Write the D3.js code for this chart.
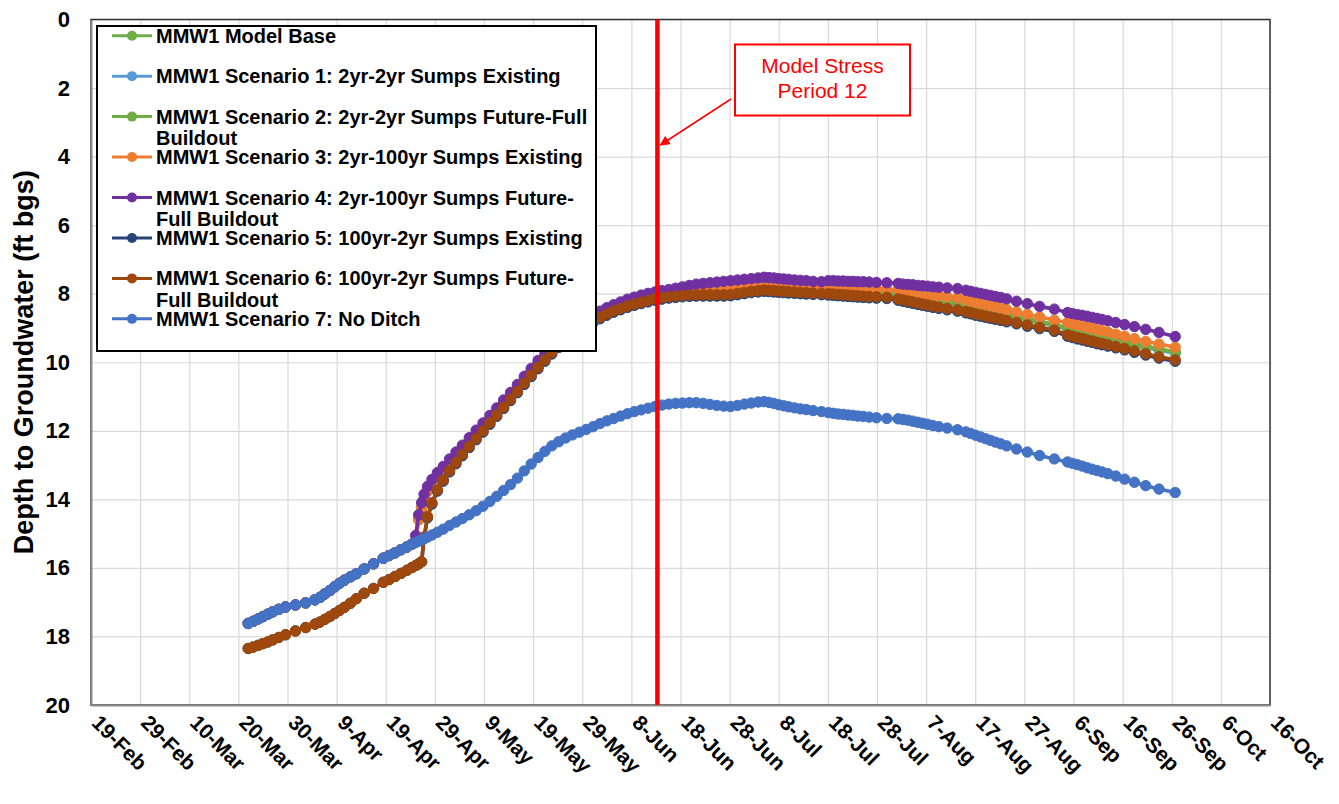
<!DOCTYPE html>
<html><head><meta charset="utf-8">
<script src="https://cdn.jsdelivr.net/npm/d3@7"></script>
<style>
body{margin:0;background:#fff}
svg{display:block}
text{font-family:"Liberation Sans",Arial,Helvetica,sans-serif}
</style>
</head><body>
<svg id="chart" width="1339" height="804"></svg>
<script>
// ---------------- DATA ----------------
const year = 2020;
const startLabel = "19-Feb";
const tickLabels = ["19-Feb","29-Feb","10-Mar","20-Mar","30-Mar","9-Apr","19-Apr","29-Apr","9-May","19-May","29-May","8-Jun","18-Jun","28-Jun","8-Jul","18-Jul","28-Jul","7-Aug","17-Aug","27-Aug","6-Sep","16-Sep","26-Sep","6-Oct","16-Oct"];
const yTicks = [0,2,4,6,8,10,12,14,16,18,20];
const yTitle = "Depth to Groundwater (ft bgs)";
const stressPeriodDay = 115.3;           // days after 19-Feb
const stressLabel = ["Model Stress","Period 12"];

// model time steps, days after 19-Feb
const days = [32,33,34,35,36,37,38.2,39.6,41.6,43.7,
45.6,46.6,47.6,48.6,49.6,50.6,51.6,52.8,54,55.6,57.5,
59.5,60.7,61.9,63.1,64.3,65.3,66.1,66.7,67.3,67.8,68.5,69.4,70.5,71.7,73,74.3,75.6,77,78.4,79.8,81.2,82.6,84,85.4,86.8,88.2,89.6,91,92.4,93.8,95.2,96.6,98,99.4,100.8,102.2,103.6,105,106.4,107.8,109.2,110.6,112,113.4,114.8,116.2,117.6,119,120.4,121.8,123.2,124.6,126,127.4,128.8,130.2,131.6,133,134.4,135.8,
137,138,139,140,141,142,143.2,144.4,145.6,147,148.7,
150.1,151.1,152.1,153.1,154.1,155.1,156.1,157.2,158.4,159.9,162,
164.3,165.3,166.3,167.3,168.3,169.3,170.3,171.4,172.6,174.3,176.4,
178.1,179.1,180.1,181.1,182.1,183.1,184.1,185.2,186.4,188.4,190.6,193.1,196.1,
198.8,199.8,200.8,201.8,202.8,203.8,204.8,205.8,207,208.6,210.4,212.4,214.7,217.4,220.7];

// shared early path of Base, Scenarios 1-4 and 7 (first 27 steps)
const upperEarly = [17.62,17.56,17.49,17.42,17.35,17.28,17.21,17.14,17.08,17.02,
16.93,16.86,16.76,16.66,16.55,16.45,16.36,16.26,16.17,16.03,15.88,
15.72,15.64,15.56,15.47,15.39,15.31];
// shared early path of Scenarios 5 and 6 (first 30 steps)
const lowerEarly = [18.35,18.31,18.26,18.21,18.16,18.1,18.03,17.95,17.84,17.74,
17.64,17.58,17.5,17.42,17.33,17.24,17.15,17.03,16.9,16.74,16.6,
16.42,16.34,16.25,16.16,16.07,15.99,15.93,15.88,15.82];

// rise after 26-Apr shared by Base and Scenarios 1-3 (steps 28-81)
const midRise = [15.19,14.59,14.24,13.99,13.76,13.56,13.36,13.18,12.96,12.74,
12.53,12.31,12.09,11.87,11.65,11.43,11.2,10.98,10.75,10.51,
10.28,10.05,9.84,9.64,9.45,9.28,9.12,8.97,8.84,8.72,
8.61,8.51,8.42,8.34,8.26,8.2,8.14,8.09,8.05,8.01,
7.98,7.95,7.92,7.89,7.86,7.84,7.82,7.8,7.78,7.76,
7.74,7.72,7.7,7.68];
const s4Rise = [15.05,14.45,14.1,13.85,13.62,13.42,13.22,13.04,12.82,12.62,
12.42,12.2,11.98,11.77,11.55,11.33,11.1,10.88,10.65,10.41,
10.18,9.95,9.74,9.54,9.35,9.18,9.02,8.87,8.74,8.62,
8.51,8.41,8.32,8.24,8.16,8.1,8.04,7.99,7.95,7.91,
7.88,7.84,7.8,7.76,7.72,7.7,7.68,7.66,7.64,7.62,
7.6,7.58,7.56,7.54];

// July - September (steps 82-142)
const baseLate = [7.81,7.82,7.82,7.83,7.84,7.84,7.85,7.86,7.86,7.87,7.88,
7.87,7.88,7.89,7.89,7.9,7.91,7.91,7.92,7.93,7.94,7.95,
7.99,8.02,8.04,8.07,8.09,8.11,8.14,8.16,8.19,8.22,8.26,
8.31,8.34,8.38,8.41,8.45,8.48,8.52,8.55,8.59,8.66,8.73,8.81,8.9,
8.99,9.02,9.06,9.09,9.13,9.16,9.2,9.23,9.27,9.33,9.39,9.46,9.53,9.61,9.7];
const s1Late = [7.85,7.86,7.86,7.87,7.88,7.88,7.89,7.9,7.9,7.91,7.92,
7.91,7.92,7.93,7.93,7.94,7.95,7.95,7.96,7.97,7.98,7.99,
8.03,8.06,8.08,8.11,8.13,8.15,8.18,8.2,8.23,8.26,8.3,
8.35,8.38,8.42,8.45,8.49,8.52,8.56,8.59,8.63,8.7,8.77,8.85,8.94,
9.03,9.06,9.1,9.13,9.17,9.2,9.24,9.27,9.31,9.37,9.43,9.5,9.57,9.65,9.74];
const s2Late = [7.82,7.83,7.83,7.84,7.85,7.85,7.86,7.87,7.87,7.88,7.89,
7.88,7.89,7.9,7.9,7.91,7.92,7.92,7.93,7.94,7.95,7.96,
8.0,8.03,8.05,8.08,8.1,8.12,8.15,8.17,8.2,8.23,8.27,
8.32,8.35,8.39,8.42,8.46,8.49,8.53,8.56,8.6,8.67,8.74,8.82,8.91,
9.0,9.03,9.07,9.1,9.14,9.17,9.21,9.24,9.28,9.34,9.4,9.47,9.54,9.62,9.71];
const s3Late = [7.75,7.76,7.76,7.77,7.78,7.78,7.79,7.8,7.8,7.81,7.82,
7.8,7.8,7.81,7.81,7.82,7.82,7.83,7.83,7.84,7.85,7.86,
7.9,7.92,7.94,7.96,7.98,8.0,8.02,8.04,8.06,8.09,8.12,
8.18,8.21,8.25,8.28,8.32,8.35,8.38,8.42,8.46,8.53,8.6,8.68,8.77,
8.84,8.87,8.91,8.94,8.98,9.01,9.05,9.08,9.12,9.18,9.24,9.31,9.39,9.47,9.56];
const s4Late = [7.52,7.53,7.54,7.56,7.57,7.58,7.6,7.61,7.62,7.64,7.65,
7.62,7.62,7.63,7.63,7.64,7.64,7.65,7.65,7.66,7.67,7.68,
7.7,7.72,7.73,7.74,7.76,7.77,7.78,7.8,7.81,7.83,7.85,
7.9,7.93,7.96,7.99,8.02,8.05,8.08,8.11,8.15,8.22,8.29,8.37,8.45,
8.55,8.58,8.61,8.63,8.66,8.69,8.72,8.75,8.79,8.84,8.9,8.96,9.04,9.13,9.25];
// Scenarios 5 and 6 from 27-Apr (steps 31-142)
const s5Rest = [15.14,14.54,14.14,13.76,13.47,13.2,12.96,12.73,12.49,12.26,
12.04,11.81,11.58,11.35,11.12,10.89,10.65,10.42,10.19,9.97,
9.76,9.57,9.4,9.24,9.09,8.96,8.84,8.73,8.63,8.54,
8.47,8.4,8.34,8.29,8.24,8.19,8.16,8.13,8.11,8.09,
8.08,8.07,8.07,8.07,8.07,8.07,8.06,8.03,8.0,7.97,7.95,
7.93,7.94,7.95,7.96,7.97,7.98,7.99,8.0,8.01,8.02,8.03,
8.04,8.05,8.06,8.07,8.08,8.09,8.1,8.11,8.12,8.13,8.14,
8.19,8.22,8.25,8.28,8.31,8.34,8.37,8.4,8.43,8.47,8.51,
8.56,8.59,8.63,8.66,8.69,8.72,8.75,8.78,8.82,8.88,8.95,9.02,9.1,
9.24,9.28,9.32,9.35,9.39,9.42,9.46,9.49,9.53,9.58,9.64,9.71,9.79,9.88,9.97];
const s6Rest = [15.1,14.5,14.1,13.72,13.43,13.16,12.92,12.69,12.45,12.22,
12.0,11.77,11.54,11.31,11.08,10.85,10.61,10.38,10.15,9.93,
9.72,9.53,9.36,9.2,9.05,8.92,8.8,8.69,8.59,8.5,
8.43,8.36,8.3,8.25,8.2,8.15,8.12,8.09,8.07,8.05,
8.04,8.03,8.03,8.03,8.03,8.03,8.02,7.99,7.96,7.93,7.91,
7.89,7.9,7.91,7.92,7.93,7.94,7.95,7.96,7.97,7.98,7.99,
8.0,8.01,8.02,8.03,8.04,8.05,8.06,8.07,8.08,8.09,8.1,
8.15,8.18,8.21,8.24,8.27,8.3,8.33,8.36,8.39,8.43,8.47,
8.52,8.55,8.59,8.62,8.65,8.68,8.71,8.74,8.78,8.84,8.91,8.98,9.06,
9.2,9.24,9.28,9.31,9.35,9.38,9.42,9.45,9.49,9.54,9.6,9.67,9.75,9.84,9.93];
// Scenario 7 from 26-Apr (steps 28-142)
const s7Rest = [15.26,15.22,15.18,15.15,15.10,15.04,14.96,14.87,14.76,14.66,
14.56,14.45,14.33,14.20,14.06,13.91,13.74,13.57,13.38,13.17,
12.97,12.78,12.60,12.44,12.32,12.21,12.12,12.04,11.96,11.88,
11.79,11.71,11.64,11.57,11.50,11.44,11.39,11.34,11.29,11.25,
11.22,11.20,11.19,11.18,11.18,11.20,11.23,11.26,11.28,11.29,
11.26,11.22,11.19,11.16,
11.15,11.17,11.2,11.24,11.27,11.3,11.33,11.36,11.38,11.41,11.44,
11.47,11.49,11.51,11.52,11.54,11.55,11.57,11.58,11.6,11.62,11.64,
11.65,11.67,11.69,11.72,11.75,11.78,11.81,11.85,11.88,11.92,11.97,
12.03,12.08,12.13,12.18,12.23,12.28,12.33,12.38,12.44,12.53,12.62,12.72,12.82,
12.91,12.95,12.99,13.03,13.08,13.12,13.16,13.2,13.25,13.32,13.41,13.5,13.6,13.7,13.8];

const seriesNames = ["MMW1 Model Base",
 "MMW1 Scenario 1: 2yr-2yr Sumps Existing",
 "MMW1 Scenario 2: 2yr-2yr Sumps Future-Full Buildout",
 "MMW1 Scenario 3: 2yr-100yr Sumps Existing",
 "MMW1 Scenario 4: 2yr-100yr Sumps Future-Full Buildout",
 "MMW1 Scenario 5: 100yr-2yr Sumps Existing",
 "MMW1 Scenario 6: 100yr-2yr Sumps Future-Full Buildout",
 "MMW1 Scenario 7: No Ditch"];
const seriesValues = [
 upperEarly.concat(midRise, baseLate),
 upperEarly.concat(midRise, s1Late),
 upperEarly.concat(midRise, s2Late),
 upperEarly.concat(midRise, s3Late),
 upperEarly.concat(s4Rise, s4Late),
 lowerEarly.concat(s5Rest),
 lowerEarly.concat(s6Rest),
 upperEarly.concat(s7Rest)];

// ---------------- STYLE ----------------
const seriesColors = ["#70AD47","#5B9BD5","#70AD47","#ED7D31","#7030A0","#264478","#9E480E","#4472C4"];
const FONT = '"Liberation Sans",Arial,Helvetica,sans-serif';

// ---------------- DRAW ----------------
const svg = d3.select("#chart");
const P = {left:91, right:1270, top:19.5, bottom:705};
const parse = d3.utcParse("%d-%b-%Y");
const tickDates = tickLabels.map(l => parse(l + "-" + year));
const t0 = parse(startLabel + "-" + year);
const toDate = d => new Date(t0.getTime() + d * 864e5);

const x = d3.scaleUtc().domain([tickDates[0], tickDates[tickDates.length-1]]).range([P.left, P.right]);
const y = d3.scaleLinear().domain([yTicks[0], yTicks[yTicks.length-1]]).range([P.top, P.bottom]);

// grid
svg.append("g").attr("transform", `translate(0,${P.bottom})`)
  .call(d3.axisBottom(x).tickValues(tickDates).tickSize(-(P.bottom-P.top)).tickFormat(""))
  .call(g => { g.select(".domain").remove(); g.selectAll("line").attr("stroke","#d9d9d9").attr("stroke-width",1.2); });
svg.append("g").attr("transform", `translate(${P.left},0)`)
  .call(d3.axisLeft(y).tickValues(yTicks).tickSize(-(P.right-P.left)).tickFormat(""))
  .call(g => { g.select(".domain").remove(); g.selectAll("line").attr("stroke","#d9d9d9").attr("stroke-width",1.2); });

// series
const line = d3.line().x((v,i) => x(toDate(days[i]))).y(v => y(v));
seriesValues.forEach((vals, s) => {
  const g = svg.append("g");
  g.append("path").attr("d", line(vals)).attr("fill","none")
    .attr("stroke", seriesColors[s]).attr("stroke-width",3.6).attr("stroke-linejoin","round");
  g.selectAll("circle").data(vals).join("circle")
    .attr("cx", (v,i) => x(toDate(days[i]))).attr("cy", v => y(v)).attr("r",5.2)
    .attr("fill", seriesColors[s]).attr("stroke", seriesColors[s]).attr("stroke-width",1);
});

// plot border and axes
svg.append("rect").attr("x",P.left).attr("y",P.top).attr("width",P.right-P.left).attr("height",P.bottom-P.top)
  .attr("fill","none").attr("stroke","#333").attr("stroke-width",1.5);
svg.append("g").attr("transform", `translate(0,${P.bottom})`)
  .call(d3.axisBottom(x).tickValues(tickDates).tickSize(0).tickFormat((d,i)=>tickLabels[i]))
  .call(g => {
    g.select(".domain").attr("stroke","#8c8c8c").attr("stroke-width",2);
    g.selectAll("text").attr("font-family",FONT).attr("font-size",21).attr("font-weight","bold").attr("fill","#000")
      .attr("text-anchor","start").attr("dy",null).attr("y",null)
      .attr("transform","translate(-1,19) rotate(45)");
  });
svg.append("g").attr("transform", `translate(${P.left},0)`)
  .call(d3.axisLeft(y).tickValues(yTicks).tickSize(0).tickPadding(21))
  .call(g => {
    g.select(".domain").attr("stroke","#8c8c8c").attr("stroke-width",2);
    g.selectAll("text").attr("font-family",FONT).attr("font-size",22).attr("font-weight","bold").attr("fill","#000");
  });

// y title
svg.append("text").attr("transform", `translate(33,${(P.top+P.bottom)/2}) rotate(-90)`)
  .attr("text-anchor","middle").attr("font-family",FONT).attr("font-size",27).attr("font-weight","bold")
  .text(yTitle);

// stress period line
const sx = x(toDate(stressPeriodDay));
svg.append("line").attr("x1",sx).attr("x2",sx).attr("y1",P.top).attr("y2",P.bottom)
  .attr("stroke","#FF0000").attr("stroke-width",4.5);

// legend
const L = {x:97, y:26, w:499, h:325, rowY:35.7, rowStep:40.45, textX:156, maxW:440};
const lg = svg.append("g");
lg.append("rect").attr("x",L.x).attr("y",L.y).attr("width",L.w).attr("height",L.h)
  .attr("fill","#fff").attr("stroke","#000").attr("stroke-width",2);
const measure = svg.append("text").attr("font-family",FONT).attr("font-size",20).attr("font-weight","bold").attr("visibility","hidden");
function wrap(str){
  const toks = str.split(/(?<=[\s-])/);
  const lines = []; let cur = "";
  toks.forEach(t => {
    const trial = cur + t;
    measure.text(trial.trimEnd());
    if (cur && measure.node().getComputedTextLength() > L.maxW) { lines.push(cur.trimEnd()); cur = t; }
    else cur = trial;
  });
  lines.push(cur.trimEnd());
  return lines;
}
seriesNames.forEach((name, i) => {
  const cy = L.rowY + i*L.rowStep;
  lg.append("line").attr("x1",112).attr("x2",152).attr("y1",cy).attr("y2",cy)
    .attr("stroke",seriesColors[i]).attr("stroke-width",3);
  lg.append("circle").attr("cx",132).attr("cy",cy).attr("r",5).attr("fill",seriesColors[i]);
  const t = lg.append("text").attr("x",L.textX).attr("y",cy+7)
    .attr("font-family",FONT).attr("font-size",20).attr("font-weight","bold").attr("fill","#000");
  wrap(name).forEach((ln,j) => t.append("tspan").attr("x",L.textX).attr("dy", j ? 21.5 : 0).text(ln));
});
measure.remove();

// annotation
const defs = svg.append("defs");
defs.append("marker").attr("id","arr").attr("viewBox","0 0 10 10").attr("refX",9).attr("refY",5)
  .attr("markerWidth",12).attr("markerHeight",10).attr("markerUnits","userSpaceOnUse").attr("orient","auto")
  .append("path").attr("d","M0,0L10,5L0,10z").attr("fill","#FF0000");
svg.append("line").attr("x1",731).attr("y1",99).attr("x2",sx+3).attr("y2",145)
  .attr("stroke","#FF0000").attr("stroke-width",1.5).attr("marker-end","url(#arr)");
svg.append("rect").attr("x",735).attr("y",44.5).attr("width",175).attr("height",71)
  .attr("fill","#fff").attr("stroke","#FF0000").attr("stroke-width",2);
svg.append("text").attr("x",822.5).attr("y",73).attr("text-anchor","middle")
  .attr("font-family",FONT).attr("font-size",21).attr("fill","#FF0000").text(stressLabel[0]);
svg.append("text").attr("x",822.5).attr("y",98).attr("text-anchor","middle")
  .attr("font-family",FONT).attr("font-size",21).attr("fill","#FF0000").text(stressLabel[1]);
</script>
</body></html>
